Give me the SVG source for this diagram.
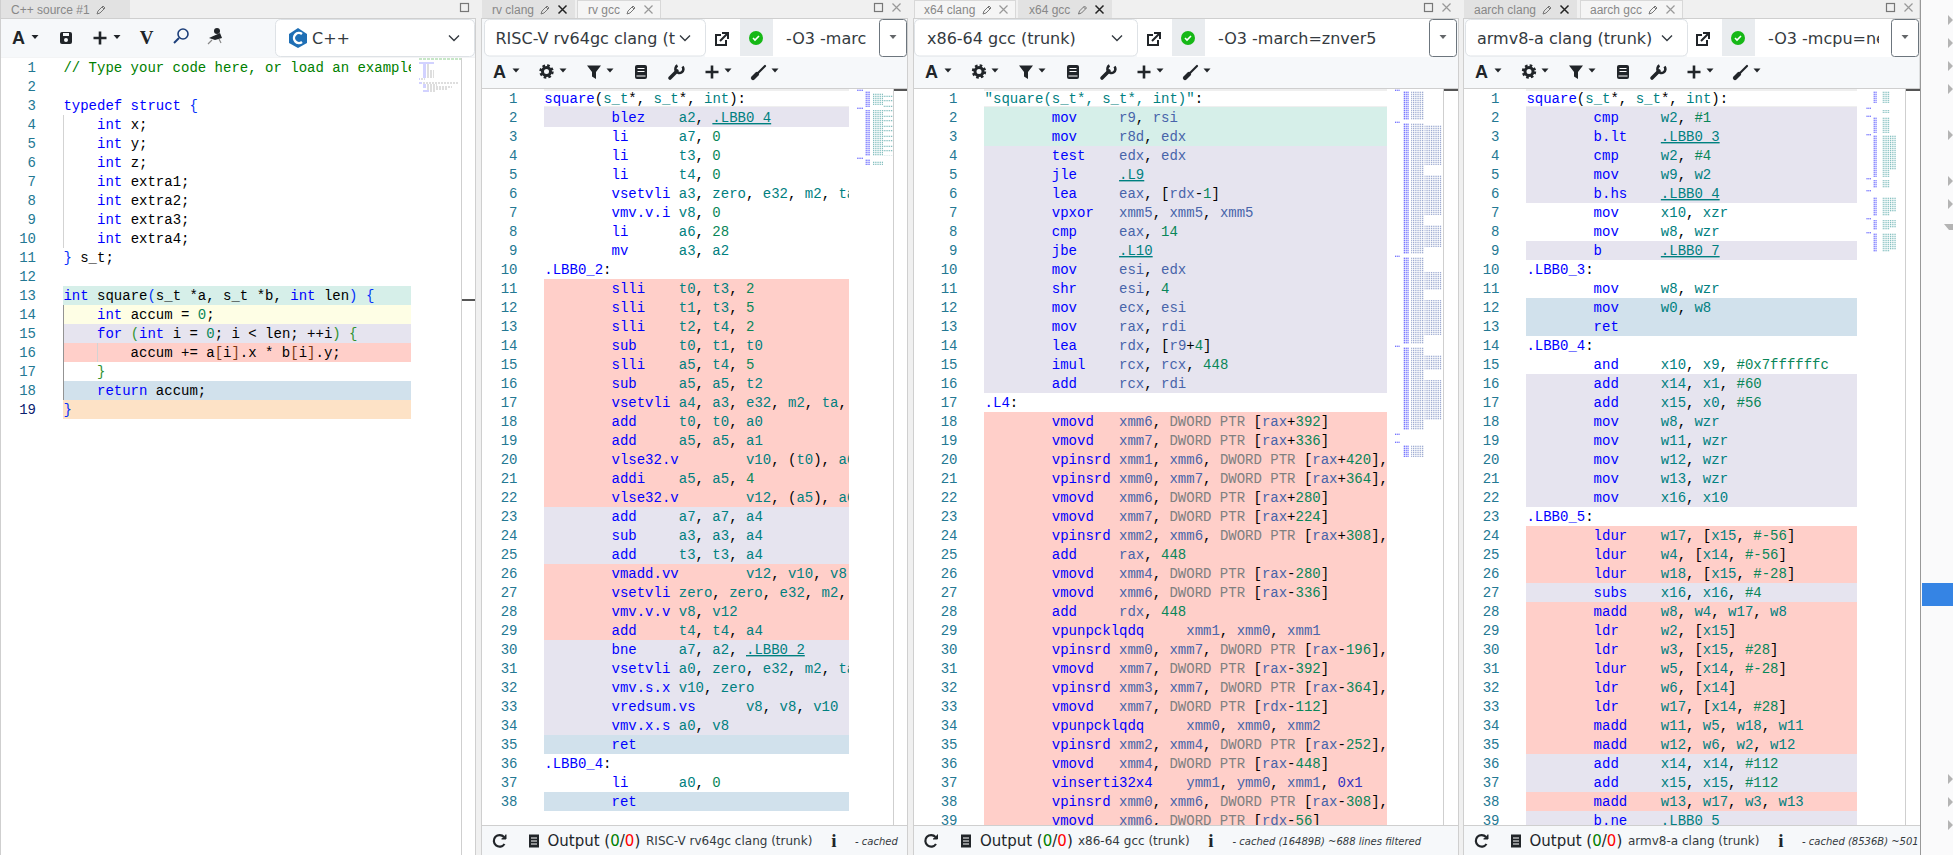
<svg xmlns="http://www.w3.org/2000/svg" width="1953" height="855" viewBox="0 0 1953 855">
<style>
.c{font:14px "Liberation Mono",monospace;white-space:pre;fill:#008080}
.ln{font:14px "Liberation Mono",monospace;fill:#237893;text-anchor:end}
.k{fill:#0000ff}.p{fill:#000}.n{fill:#098658}.d{fill:#808080}.g{fill:#008000}.b2{fill:#319331}.b3{fill:#7b3814}.b1{fill:#0431fa}.h{fill:#3030c0}
.l{fill:#008080;text-decoration:underline}
.x64{fill:#4864aa}.src{fill:#000}
.tab{font:12px "Liberation Sans",Arial,sans-serif;fill:#888}
.sel{font:16px "DejaVu Sans",sans-serif;fill:#343a40}
.out{font:15px "DejaVu Sans",sans-serif;fill:#212529}
.cn{font:12px "DejaVu Sans",sans-serif;fill:#343a40}
.ca{font:italic 10px "DejaVu Sans",sans-serif;fill:#343a40}
.ia{font:bold 18px "Liberation Sans",sans-serif;fill:#212529}
.ii{font:bold 19px "Liberation Serif",serif;fill:#212529;text-anchor:middle}
.rg{fill:#d6efe9}.ry{fill:#fefee5}.rl{fill:#e6e4ef}.rr{fill:#ffcfc9}.rb{fill:#d1e1ec}.ro{fill:#fde2c6}
.bar{fill:#f6f8fa}.tbon{fill:#e2e2e2}.tboff{fill:#f5f5f5;stroke:#d8d8d8;stroke-width:1}
.box{fill:#fff;stroke:#dee2e6;stroke-width:1}
.line{fill:none;stroke:#cfcfcf;stroke-width:1}
.mm{fill:none}
.mb{stroke:url(#pb)}.mt{stroke:url(#pt)}.ms{stroke:url(#ps)}
</style>
<defs>
<pattern id="pb" width="1.800" height="2" patternUnits="userSpaceOnUse"><rect width="1.100" height="1.400" fill="#6f6fff"/></pattern>
<pattern id="pt" width="1.800" height="2" patternUnits="userSpaceOnUse"><rect width="1" height="1.300" fill="#7fbdbd"/></pattern>
<pattern id="ps" width="1.800" height="2" patternUnits="userSpaceOnUse"><rect width="1" height="1.300" fill="#9aa8d0"/></pattern>
<path id="caret" d="M-3.5-2H3.5L0 2Z" fill="#212529"/>
<path id="plus" d="M-6.5 0H6.5M0-6.5V6.5" stroke="#212529" stroke-width="2.6" fill="none"/>
<g id="gear"><circle r="4" fill="none" stroke="#212529" stroke-width="3"/><circle r="6" fill="none" stroke="#212529" stroke-width="2.4" stroke-dasharray="2.6 2.1"/></g>
<path id="funnel" d="M-7-6.5H7L2 0V7L-2 4.5V0Z" fill="#212529"/>
<g id="book"><rect x="-6" y="-7" width="12" height="14" rx="2" fill="#212529"/><path d="M-3.5-3.5H3.5M-3.5-.5H3.5M-4.5 4H4.5" stroke="#fff" stroke-width="1.2"/></g>
<g id="wrench" fill="none" stroke="#212529"><path d="M-6 6L1-1" stroke-width="3.6" stroke-linecap="round"/><path d="M6.5-5.5A4 4 0 1 1 1.5-6.5" stroke-width="2.6"/></g>
<g id="brush" fill="none" stroke="#212529" stroke-linecap="round"><path d="M-6 6L-2 2" stroke-width="4.2"/><path d="M-1 1L6-6" stroke-width="2.2"/></g>
<g id="popout" fill="none" stroke="#212529" stroke-width="2"><path d="M-1-4H-6V6H4V1"/><path d="M-2 2L5-5M0-6H6V0"/></g>
<g id="ok"><circle r="7" fill="#16b816"/><path d="M-3 0L-1 2L3-2" fill="none" stroke="#fff" stroke-width="1.6"/></g>
<path id="pen" d="M-4 4L-3 1L2-4L4-2L-1 3ZM1-3L3-1" fill="none" stroke="#777" stroke-width="1"/>
<path id="xk" d="M-4-4L4 4M4-4L-4 4" stroke="#222" stroke-width="1.5"/>
<path id="xg" d="M-4-4L4 4M4-4L-4 4" stroke="#999" stroke-width="1.2"/>
<rect id="max" x="-4" y="-4" width="8" height="8" fill="none" stroke="#777" stroke-width="1.2"/>
<path id="chev" d="M-5-2.5L0 2.5L5-2.5" fill="none" stroke="#343a40" stroke-width="1.4"/>
<g id="refresh" fill="none" stroke="#212529" stroke-width="2.2"><path d="M5 3A5.8 5.8 0 1 1 4.5-4"/><path d="M6.5-6.5V-2H2" fill="#212529" stroke-width="1"/></g>
<g id="doc"><rect x="-5" y="-6.5" width="10" height="13" fill="#212529"/><path d="M-3-3H3M-3 0H3M-3 3H3" stroke="#fff" stroke-width="1"/></g>
<clipPath id="cs"><rect x="63" y="58" width="348" height="797"/></clipPath>
<clipPath id="cr"><rect x="544" y="89" width="305" height="736"/></clipPath>
<clipPath id="cx"><rect x="984" y="89" width="403" height="736"/></clipPath>
<clipPath id="ca"><rect x="1526" y="89" width="331" height="736"/></clipPath>
<clipPath id="cao"><rect x="1760" y="20" width="119" height="36"/></clipPath>
<clipPath id="caf"><rect x="1800" y="830" width="118" height="24"/></clipPath>
</defs>
<rect width="1953" height="855" fill="#f0f0f0"/>

<g id="pane-source">
<rect x="1" y="0" width="129" height="18" class="tbon"/>
<text x="11" y="14" class="tab">C++ source #1</text>
<use href="#pen" x="101" y="10"/><use href="#max" x="464.5" y="7.5"/>
<rect x="1" y="18.5" width="474" height="39" class="bar"/>
<path d="M1 18.5H475" class="line"/><path d="M.5 0V855M475.5 18V855" class="line"/>
<rect x="275.5" y="19.5" width="199" height="37" rx="5" class="box"/>
<text x="12" y="44" class="ia">A</text><use href="#caret" x="35" y="37"/>
<rect x="60" y="32" width="12" height="12" rx="2" fill="#212529"/><rect x="63" y="33" width="6" height="3" fill="#f6f8fa"/><circle cx="66" cy="40" r="2" fill="#f6f8fa"/>
<use href="#plus" x="100" y="38"/><use href="#caret" x="117" y="37"/>
<text x="146.500" y="44" class="ii">V</text>
<g fill="none" stroke="#1d3f7a"><circle cx="183" cy="34" r="5" stroke-width="1.6"/><path d="M179 38L174 43" stroke-width="2"/></g>
<g fill="#212529"><circle cx="217" cy="31" r="3"/><path d="M209 38L220 33L222 38L215 40Z"/><path d="M212 40L208 44M219 39L221 43" stroke="#888" stroke-width="1.2"/></g>
<path d="M289 34L298 28L307 34V43L298 48L289 43Z" fill="#1f6fb5"/><path d="M302 34A5 5 0 1 0 302 42" fill="none" stroke="#fff" stroke-width="2.4"/>
<text x="312" y="44" class="sel">C++</text><use href="#chev" x="454" y="38"/>
<rect x="1" y="58" width="474" height="797" fill="#fff"/>
<g clip-path="url(#cs)">
<rect x="63" y="286" width="348" height="19" class="rg"/><rect x="63" y="305" width="348" height="19" class="ry"/><rect x="63" y="324" width="348" height="19" class="rl"/><rect x="63" y="343" width="348" height="19" class="rr"/><rect x="63" y="381" width="348" height="19" class="rb"/><rect x="63" y="400" width="348" height="19" class="ro"/>
<path d="M63.500 115V248" stroke="#d3d3d3"/><path d="M63.500 305V400" stroke="#939393"/><path d="M97.500 343V362" stroke="#d3d3d3"/>
<g transform="translate(63.400,0)">
<text y="72" class="c g">// Type your code here, or load an example</text>
<text y="110" class="c src"><tspan class="k">typedef struct</tspan> <tspan class="b1">{</tspan></text>
<text y="129" class="c src">    <tspan class="k">int</tspan> x;</text>
<text y="148" class="c src">    <tspan class="k">int</tspan> y;</text>
<text y="167" class="c src">    <tspan class="k">int</tspan> z;</text>
<text y="186" class="c src">    <tspan class="k">int</tspan> extra1;</text>
<text y="205" class="c src">    <tspan class="k">int</tspan> extra2;</text>
<text y="224" class="c src">    <tspan class="k">int</tspan> extra3;</text>
<text y="243" class="c src">    <tspan class="k">int</tspan> extra4;</text>
<text y="262" class="c src"><tspan class="b1">}</tspan> s_t;</text>
<text y="300" class="c src"><tspan class="k">int</tspan> square<tspan class="b1">(</tspan>s_t *a, s_t *b, <tspan class="k">int</tspan> len<tspan class="b1">)</tspan> <tspan class="b1">{</tspan></text>
<text y="319" class="c src">    <tspan class="k">int</tspan> accum = <tspan class="n">0</tspan>;</text>
<text y="338" class="c src">    <tspan class="k">for</tspan> <tspan class="b2">(</tspan><tspan class="k">int</tspan> i = <tspan class="n">0</tspan>; i &lt; len; ++i<tspan class="b2">)</tspan> <tspan class="b2">{</tspan></text>
<text y="357" class="c src">        accum += a<tspan class="b3">[</tspan>i<tspan class="b3">]</tspan>.x * b<tspan class="b3">[</tspan>i<tspan class="b3">]</tspan>.y;</text>
<text y="376" class="c src">    <tspan class="b2">}</tspan></text>
<text y="395" class="c src">    <tspan class="k">return</tspan> accum;</text>
<text y="414" class="c src"><tspan class="b1">}</tspan></text>
</g></g>
<g transform="translate(36,0)">
<text class="ln" y="72">1</text><text class="ln" y="91">2</text><text class="ln" y="110">3</text><text class="ln" y="129">4</text><text class="ln" y="148">5</text><text class="ln" y="167">6</text><text class="ln" y="186">7</text><text class="ln" y="205">8</text><text class="ln" y="224">9</text><text class="ln" y="243">10</text><text class="ln" y="262">11</text><text class="ln" y="281">12</text><text class="ln" y="300">13</text><text class="ln" y="319">14</text><text class="ln" y="338">15</text><text class="ln" y="357">16</text><text class="ln" y="376">17</text><text class="ln" y="395">18</text><text class="ln" y="414" style="fill:#0b216f">19</text>
</g>
<path d="M461.500 58V855" class="line"/><rect x="462" y="299" width="13" height="2" fill="#555"/>
<path d="M419 59h42" stroke="#8fce8f" stroke-width="1.200" stroke-dasharray="3 1"/>
<path d="M419 63h15M423 65h3M423 67h3M423 69h3M423 71h3M423 73h3M423 75h3M423 77h3M419 79h1M419 83h3M423 85h3M423 87h3M423 91h6" stroke="#a5a5ff" stroke-width="1.200"/>
<path d="M427 65h2M427 67h2M427 69h2M427 71h7M427 73h7M427 75h7M427 77h7M421 79h4M423 83h35M427 85h10M427 87h25M427 89h20M430 91h5" stroke="#bdbdbd" stroke-width="1.200" stroke-dasharray="2 1"/>
</g>

<g id="pane-rv">
<rect x="482" y="0" width="93" height="18" class="tbon"/><rect x="577.500" y=".5" width="83" height="18" class="tboff"/>
<text x="492" y="14" class="tab">rv clang</text><text x="588" y="14" class="tab">rv gcc</text>
<use href="#pen" x="545" y="10"/><use href="#xk" x="562.500" y="9.500"/><use href="#pen" x="631" y="10"/><use href="#xg" x="648.500" y="9.500"/>
<use href="#max" x="878.500" y="7.500"/><use href="#xg" x="896.500" y="7.500"/>
<rect x="482" y="18.500" width="425" height="70" class="bar"/><rect x="705" y="19" width="202" height="38" fill="#fff"/>
<path d="M482 18.500H907M482 88.500H907" class="line"/><path d="M481.500 18V855M907.500 18V855" class="line"/>
<rect x="484.500" y="19.500" width="221" height="36.500" rx="5" class="box"/>
<text x="495.500" y="44" class="sel">RISC-V rv64gc clang (t</text><use href="#chev" x="685" y="38"/>
<use href="#popout" x="722" y="39"/><rect x="740" y="19" width="33" height="37" fill="#e9ecef"/><use href="#ok" x="756" y="38"/>
<text x="786" y="44" class="sel">-O3 -marc</text>
<rect x="879.500" y="19.500" width="27" height="37" rx="3" fill="#fff" stroke="#6c757d"/><use href="#caret" x="893" y="37" style="opacity:.7"/>
<text x="493" y="78" class="ia">A</text><use href="#caret" x="516" y="70.500"/><use href="#gear" x="546.500" y="71.500"/><use href="#caret" x="563" y="70.500"/><use href="#funnel" x="594" y="72"/><use href="#caret" x="610" y="70.500"/><use href="#book" x="641" y="72"/><use href="#wrench" x="676" y="72"/><use href="#plus" x="712" y="72"/><use href="#caret" x="728" y="70.500"/><use href="#brush" x="759" y="72"/><use href="#caret" x="775" y="70.500"/>
<rect x="482" y="89" width="425" height="736.500" fill="#fff"/>
<g clip-path="url(#cr)">
<path d="M544 89h305v2H544ZM544 106h305v2H544Z" fill="#efefef"/>
<rect x="544" y="107" width="305" height="20" class="rl"/><rect x="544" y="279" width="305" height="228" class="rr"/><rect x="544" y="507" width="305" height="57" class="rl"/><rect x="544" y="564" width="305" height="76" class="rr"/><rect x="544" y="640" width="305" height="95" class="rl"/><rect x="544" y="735" width="305" height="19" class="rb"/><rect x="544" y="792" width="305" height="19" class="rb"/>
<g transform="translate(544.300,0)">
<text y="103" class="c"><tspan class="k">square</tspan><tspan class="p">(</tspan>s_t<tspan class="p">*, </tspan>s_t<tspan class="p">*, </tspan>int<tspan class="p">):</tspan></text>
<text y="122" class="c">        <tspan class="k">blez</tspan>    a2<tspan class="p">, </tspan><tspan class="l">.LBB0_4</tspan></text>
<text y="141" class="c">        <tspan class="k">li</tspan>      a7<tspan class="p">, </tspan><tspan class="n">0</tspan></text>
<text y="160" class="c">        <tspan class="k">li</tspan>      t3<tspan class="p">, </tspan><tspan class="n">0</tspan></text>
<text y="179" class="c">        <tspan class="k">li</tspan>      t4<tspan class="p">, </tspan><tspan class="n">0</tspan></text>
<text y="198" class="c">        <tspan class="k">vsetvli</tspan> a3<tspan class="p">, </tspan>zero<tspan class="p">, </tspan>e32<tspan class="p">, </tspan>m2<tspan class="p">, </tspan>ta</text>
<text y="217" class="c">        <tspan class="k">vmv.v.i</tspan> v8<tspan class="p">, </tspan><tspan class="n">0</tspan></text>
<text y="236" class="c">        <tspan class="k">li</tspan>      a6<tspan class="p">, </tspan><tspan class="n">28</tspan></text>
<text y="255" class="c">        <tspan class="k">mv</tspan>      a3<tspan class="p">, </tspan>a2</text>
<text y="274" class="c"><tspan class="k">.LBB0_2</tspan><tspan class="p">:</tspan></text>
<text y="293" class="c">        <tspan class="k">slli</tspan>    t0<tspan class="p">, </tspan>t3<tspan class="p">, </tspan><tspan class="n">2</tspan></text>
<text y="312" class="c">        <tspan class="k">slli</tspan>    t1<tspan class="p">, </tspan>t3<tspan class="p">, </tspan><tspan class="n">5</tspan></text>
<text y="331" class="c">        <tspan class="k">slli</tspan>    t2<tspan class="p">, </tspan>t4<tspan class="p">, </tspan><tspan class="n">2</tspan></text>
<text y="350" class="c">        <tspan class="k">sub</tspan>     t0<tspan class="p">, </tspan>t1<tspan class="p">, </tspan>t0</text>
<text y="369" class="c">        <tspan class="k">slli</tspan>    a5<tspan class="p">, </tspan>t4<tspan class="p">, </tspan><tspan class="n">5</tspan></text>
<text y="388" class="c">        <tspan class="k">sub</tspan>     a5<tspan class="p">, </tspan>a5<tspan class="p">, </tspan>t2</text>
<text y="407" class="c">        <tspan class="k">vsetvli</tspan> a4<tspan class="p">, </tspan>a3<tspan class="p">, </tspan>e32<tspan class="p">, </tspan>m2<tspan class="p">, </tspan>ta<tspan class="p">,</tspan></text>
<text y="426" class="c">        <tspan class="k">add</tspan>     t0<tspan class="p">, </tspan>t0<tspan class="p">, </tspan>a0</text>
<text y="445" class="c">        <tspan class="k">add</tspan>     a5<tspan class="p">, </tspan>a5<tspan class="p">, </tspan>a1</text>
<text y="464" class="c">        <tspan class="k">vlse32.v</tspan>        v10<tspan class="p">, (</tspan>t0<tspan class="p">), </tspan>a6</text>
<text y="483" class="c">        <tspan class="k">addi</tspan>    a5<tspan class="p">, </tspan>a5<tspan class="p">, </tspan><tspan class="n">4</tspan></text>
<text y="502" class="c">        <tspan class="k">vlse32.v</tspan>        v12<tspan class="p">, (</tspan>a5<tspan class="p">), </tspan>a6</text>
<text y="521" class="c">        <tspan class="k">add</tspan>     a7<tspan class="p">, </tspan>a7<tspan class="p">, </tspan>a4</text>
<text y="540" class="c">        <tspan class="k">sub</tspan>     a3<tspan class="p">, </tspan>a3<tspan class="p">, </tspan>a4</text>
<text y="559" class="c">        <tspan class="k">add</tspan>     t3<tspan class="p">, </tspan>t3<tspan class="p">, </tspan>a4</text>
<text y="578" class="c">        <tspan class="k">vmadd.vv</tspan>        v12<tspan class="p">, </tspan>v10<tspan class="p">, </tspan>v8</text>
<text y="597" class="c">        <tspan class="k">vsetvli</tspan> zero<tspan class="p">, </tspan>zero<tspan class="p">, </tspan>e32<tspan class="p">, </tspan>m2<tspan class="p">,</tspan></text>
<text y="616" class="c">        <tspan class="k">vmv.v.v</tspan> v8<tspan class="p">, </tspan>v12</text>
<text y="635" class="c">        <tspan class="k">add</tspan>     t4<tspan class="p">, </tspan>t4<tspan class="p">, </tspan>a4</text>
<text y="654" class="c">        <tspan class="k">bne</tspan>     a7<tspan class="p">, </tspan>a2<tspan class="p">, </tspan><tspan class="l">.LBB0_2</tspan></text>
<text y="673" class="c">        <tspan class="k">vsetvli</tspan> a0<tspan class="p">, </tspan>zero<tspan class="p">, </tspan>e32<tspan class="p">, </tspan>m2<tspan class="p">, </tspan>ta</text>
<text y="692" class="c">        <tspan class="k">vmv.s.x</tspan> v10<tspan class="p">, </tspan>zero</text>
<text y="711" class="c">        <tspan class="k">vredsum.vs</tspan>      v8<tspan class="p">, </tspan>v8<tspan class="p">, </tspan>v10</text>
<text y="730" class="c">        <tspan class="k">vmv.x.s</tspan> a0<tspan class="p">, </tspan>v8</text>
<text y="749" class="c">        <tspan class="k">ret</tspan></text>
<text y="768" class="c"><tspan class="k">.LBB0_4</tspan><tspan class="p">:</tspan></text>
<text y="787" class="c">        <tspan class="k">li</tspan>      a0<tspan class="p">, </tspan><tspan class="n">0</tspan></text>
<text y="806" class="c">        <tspan class="k">ret</tspan></text>
</g></g>
<g transform="translate(517.500,0)">
<text class="ln" y="103">1</text><text class="ln" y="122">2</text><text class="ln" y="141">3</text><text class="ln" y="160">4</text><text class="ln" y="179">5</text><text class="ln" y="198">6</text><text class="ln" y="217">7</text><text class="ln" y="236">8</text><text class="ln" y="255">9</text><text class="ln" y="274">10</text><text class="ln" y="293">11</text><text class="ln" y="312">12</text><text class="ln" y="331">13</text><text class="ln" y="350">14</text><text class="ln" y="369">15</text><text class="ln" y="388">16</text><text class="ln" y="407">17</text><text class="ln" y="426">18</text><text class="ln" y="445">19</text><text class="ln" y="464">20</text><text class="ln" y="483">21</text><text class="ln" y="502">22</text><text class="ln" y="521">23</text><text class="ln" y="540">24</text><text class="ln" y="559">25</text><text class="ln" y="578">26</text><text class="ln" y="597">27</text><text class="ln" y="616">28</text><text class="ln" y="635">29</text><text class="ln" y="654">30</text><text class="ln" y="673">31</text><text class="ln" y="692">32</text><text class="ln" y="711">33</text><text class="ln" y="730">34</text><text class="ln" y="749">35</text><text class="ln" y="768">36</text><text class="ln" y="787">37</text><text class="ln" y="806">38</text>
</g>
<path d="M893.500 89V825" class="line"/><rect x="894" y="89" width="13" height="2" fill="#555"/>
<path class="mm mb" stroke-width="5" d="M867.500 91V107M867.500 110V156M867.500 159V165"/><path class="mm mb" stroke-width="6" d="M860 89V91M860 107V109M860 157V159"/>
<path class="mm mt" stroke-width="10" d="M878 93V105M878 110V156M878 161V165"/><path class="mm mt" stroke-width="10" stroke-dasharray="2 3" d="M888 95V156"/>
<rect x="482" y="825.500" width="425" height="29.500" class="bar"/><path d="M482 825.500H907" class="line"/>
<use href="#refresh" x="499.500" y="841"/><use href="#doc" x="534" y="841"/>
<text x="547.500" y="846" class="out">Output (<tspan fill="#008000">0</tspan>/<tspan fill="#f00">0</tspan>)</text>
<text x="646" y="845" class="cn">RISC-V rv64gc clang (trunk)</text><text x="834" y="847" class="ii">i</text>
<text x="855" y="845" class="ca">- cached</text>
</g>

<g id="pane-x64">
<rect x="914.500" y=".5" width="101" height="18" class="tboff"/><rect x="1018" y="0" width="94" height="18" class="tbon"/>
<text x="924" y="14" class="tab">x64 clang</text><text x="1029" y="14" class="tab">x64 gcc</text>
<use href="#pen" x="987" y="10"/><use href="#xg" x="1003.500" y="9.500"/><use href="#pen" x="1082.500" y="10"/><use href="#xk" x="1099.500" y="9.500"/>
<use href="#max" x="1428.500" y="7.500"/><use href="#xg" x="1446.500" y="7.500"/>
<rect x="914" y="18.500" width="544" height="70" class="bar"/><rect x="1137" y="19" width="320" height="38" fill="#fff"/>
<path d="M914 18.500H1458M914 88.500H1458" class="line"/><path d="M913.500 18V855M1458.500 18V855" class="line"/>
<rect x="914.500" y="19.500" width="223" height="36.500" rx="5" class="box"/>
<text x="927" y="44" class="sel">x86-64 gcc (trunk)</text><use href="#chev" x="1117" y="38"/>
<use href="#popout" x="1154" y="39"/><rect x="1172" y="19" width="33" height="37" fill="#e9ecef"/><use href="#ok" x="1188" y="38"/>
<text x="1218" y="44" class="sel">-O3 -march=znver5</text>
<rect x="1429.500" y="19.500" width="27" height="37" rx="3" fill="#fff" stroke="#6c757d"/><use href="#caret" x="1443" y="37" style="opacity:.7"/>
<text x="925" y="78" class="ia">A</text><use href="#caret" x="948" y="70.500"/><use href="#gear" x="979" y="71.500"/><use href="#caret" x="995" y="70.500"/><use href="#funnel" x="1026" y="72"/><use href="#caret" x="1042" y="70.500"/><use href="#book" x="1073" y="72"/><use href="#wrench" x="1108" y="72"/><use href="#plus" x="1144" y="72"/><use href="#caret" x="1160" y="70.500"/><use href="#brush" x="1191" y="72"/><use href="#caret" x="1207" y="70.500"/>
<rect x="914" y="89" width="544" height="736.500" fill="#fff"/>
<g clip-path="url(#cx)">
<path d="M984 89h403v2H984ZM984 106h403v2H984Z" fill="#efefef"/>
<rect x="984" y="107" width="403" height="39" class="rg"/><rect x="984" y="146" width="403" height="247" class="rl"/><rect x="984" y="412" width="403" height="414" class="rr"/>
<g transform="translate(984.600,0)">
<text y="103" class="c">"square(s_t*, s_t*, int)"<tspan class="p">:</tspan></text>
<text y="122" class="c x64">        <tspan class="k">mov</tspan>     r9<tspan class="p">, </tspan>rsi</text>
<text y="141" class="c x64">        <tspan class="k">mov</tspan>     r8d<tspan class="p">, </tspan>edx</text>
<text y="160" class="c x64">        <tspan class="k">test</tspan>    edx<tspan class="p">, </tspan>edx</text>
<text y="179" class="c x64">        <tspan class="k">jle</tspan>     <tspan class="l">.L9</tspan></text>
<text y="198" class="c x64">        <tspan class="k">lea</tspan>     eax<tspan class="p">, [</tspan>rdx<tspan class="p">-</tspan><tspan class="n">1</tspan><tspan class="p">]</tspan></text>
<text y="217" class="c x64">        <tspan class="k">vpxor</tspan>   xmm5<tspan class="p">, </tspan>xmm5<tspan class="p">, </tspan>xmm5</text>
<text y="236" class="c x64">        <tspan class="k">cmp</tspan>     eax<tspan class="p">, </tspan><tspan class="n">14</tspan></text>
<text y="255" class="c x64">        <tspan class="k">jbe</tspan>     <tspan class="l">.L10</tspan></text>
<text y="274" class="c x64">        <tspan class="k">mov</tspan>     esi<tspan class="p">, </tspan>edx</text>
<text y="293" class="c x64">        <tspan class="k">shr</tspan>     esi<tspan class="p">, </tspan><tspan class="n">4</tspan></text>
<text y="312" class="c x64">        <tspan class="k">mov</tspan>     ecx<tspan class="p">, </tspan>esi</text>
<text y="331" class="c x64">        <tspan class="k">mov</tspan>     rax<tspan class="p">, </tspan>rdi</text>
<text y="350" class="c x64">        <tspan class="k">lea</tspan>     rdx<tspan class="p">, [</tspan>r9<tspan class="p">+</tspan><tspan class="n">4</tspan><tspan class="p">]</tspan></text>
<text y="369" class="c x64">        <tspan class="k">imul</tspan>    rcx<tspan class="p">, </tspan>rcx<tspan class="p">, </tspan><tspan class="n">448</tspan></text>
<text y="388" class="c x64">        <tspan class="k">add</tspan>     rcx<tspan class="p">, </tspan>rdi</text>
<text y="407" class="c"><tspan class="k">.L4</tspan><tspan class="p">:</tspan></text>
<text y="426" class="c x64">        <tspan class="k">vmovd</tspan>   xmm6<tspan class="p">, </tspan><tspan class="d">DWORD PTR</tspan><tspan class="p"> [</tspan>rax<tspan class="p">+</tspan><tspan class="n">392</tspan><tspan class="p">]</tspan></text>
<text y="445" class="c x64">        <tspan class="k">vmovd</tspan>   xmm7<tspan class="p">, </tspan><tspan class="d">DWORD PTR</tspan><tspan class="p"> [</tspan>rax<tspan class="p">+</tspan><tspan class="n">336</tspan><tspan class="p">]</tspan></text>
<text y="464" class="c x64">        <tspan class="k">vpinsrd</tspan> xmm1<tspan class="p">, </tspan>xmm6<tspan class="p">, </tspan><tspan class="d">DWORD PTR</tspan><tspan class="p"> [</tspan>rax<tspan class="p">+</tspan><tspan class="n">420</tspan><tspan class="p">],</tspan></text>
<text y="483" class="c x64">        <tspan class="k">vpinsrd</tspan> xmm0<tspan class="p">, </tspan>xmm7<tspan class="p">, </tspan><tspan class="d">DWORD PTR</tspan><tspan class="p"> [</tspan>rax<tspan class="p">+</tspan><tspan class="n">364</tspan><tspan class="p">],</tspan></text>
<text y="502" class="c x64">        <tspan class="k">vmovd</tspan>   xmm6<tspan class="p">, </tspan><tspan class="d">DWORD PTR</tspan><tspan class="p"> [</tspan>rax<tspan class="p">+</tspan><tspan class="n">280</tspan><tspan class="p">]</tspan></text>
<text y="521" class="c x64">        <tspan class="k">vmovd</tspan>   xmm7<tspan class="p">, </tspan><tspan class="d">DWORD PTR</tspan><tspan class="p"> [</tspan>rax<tspan class="p">+</tspan><tspan class="n">224</tspan><tspan class="p">]</tspan></text>
<text y="540" class="c x64">        <tspan class="k">vpinsrd</tspan> xmm2<tspan class="p">, </tspan>xmm6<tspan class="p">, </tspan><tspan class="d">DWORD PTR</tspan><tspan class="p"> [</tspan>rax<tspan class="p">+</tspan><tspan class="n">308</tspan><tspan class="p">],</tspan></text>
<text y="559" class="c x64">        <tspan class="k">add</tspan>     rax<tspan class="p">, </tspan><tspan class="n">448</tspan></text>
<text y="578" class="c x64">        <tspan class="k">vmovd</tspan>   xmm4<tspan class="p">, </tspan><tspan class="d">DWORD PTR</tspan><tspan class="p"> [</tspan>rax<tspan class="p">-</tspan><tspan class="n">280</tspan><tspan class="p">]</tspan></text>
<text y="597" class="c x64">        <tspan class="k">vmovd</tspan>   xmm6<tspan class="p">, </tspan><tspan class="d">DWORD PTR</tspan><tspan class="p"> [</tspan>rax<tspan class="p">-</tspan><tspan class="n">336</tspan><tspan class="p">]</tspan></text>
<text y="616" class="c x64">        <tspan class="k">add</tspan>     rdx<tspan class="p">, </tspan><tspan class="n">448</tspan></text>
<text y="635" class="c x64">        <tspan class="k">vpunpcklqdq</tspan>     xmm1<tspan class="p">, </tspan>xmm0<tspan class="p">, </tspan>xmm1</text>
<text y="654" class="c x64">        <tspan class="k">vpinsrd</tspan> xmm0<tspan class="p">, </tspan>xmm7<tspan class="p">, </tspan><tspan class="d">DWORD PTR</tspan><tspan class="p"> [</tspan>rax<tspan class="p">-</tspan><tspan class="n">196</tspan><tspan class="p">],</tspan></text>
<text y="673" class="c x64">        <tspan class="k">vmovd</tspan>   xmm7<tspan class="p">, </tspan><tspan class="d">DWORD PTR</tspan><tspan class="p"> [</tspan>rax<tspan class="p">-</tspan><tspan class="n">392</tspan><tspan class="p">]</tspan></text>
<text y="692" class="c x64">        <tspan class="k">vpinsrd</tspan> xmm3<tspan class="p">, </tspan>xmm7<tspan class="p">, </tspan><tspan class="d">DWORD PTR</tspan><tspan class="p"> [</tspan>rax<tspan class="p">-</tspan><tspan class="n">364</tspan><tspan class="p">],</tspan></text>
<text y="711" class="c x64">        <tspan class="k">vmovd</tspan>   xmm7<tspan class="p">, </tspan><tspan class="d">DWORD PTR</tspan><tspan class="p"> [</tspan>rdx<tspan class="p">-</tspan><tspan class="n">112</tspan><tspan class="p">]</tspan></text>
<text y="730" class="c x64">        <tspan class="k">vpunpcklqdq</tspan>     xmm0<tspan class="p">, </tspan>xmm0<tspan class="p">, </tspan>xmm2</text>
<text y="749" class="c x64">        <tspan class="k">vpinsrd</tspan> xmm2<tspan class="p">, </tspan>xmm4<tspan class="p">, </tspan><tspan class="d">DWORD PTR</tspan><tspan class="p"> [</tspan>rax<tspan class="p">-</tspan><tspan class="n">252</tspan><tspan class="p">],</tspan></text>
<text y="768" class="c x64">        <tspan class="k">vmovd</tspan>   xmm4<tspan class="p">, </tspan><tspan class="d">DWORD PTR</tspan><tspan class="p"> [</tspan>rax<tspan class="p">-</tspan><tspan class="n">448</tspan><tspan class="p">]</tspan></text>
<text y="787" class="c x64">        <tspan class="k">vinserti32x4</tspan>    ymm1<tspan class="p">, </tspan>ymm0<tspan class="p">, </tspan>xmm1<tspan class="p">, </tspan><tspan class="h">0x1</tspan></text>
<text y="806" class="c x64">        <tspan class="k">vpinsrd</tspan> xmm0<tspan class="p">, </tspan>xmm6<tspan class="p">, </tspan><tspan class="d">DWORD PTR</tspan><tspan class="p"> [</tspan>rax<tspan class="p">-</tspan><tspan class="n">308</tspan><tspan class="p">],</tspan></text>
<text y="825" class="c x64">        <tspan class="k">vmovd</tspan>   xmm6<tspan class="p">, </tspan><tspan class="d">DWORD PTR</tspan><tspan class="p"> [</tspan>rdx<tspan class="p">-</tspan><tspan class="n">56</tspan><tspan class="p">]</tspan></text>
</g></g>
<g transform="translate(957.500,0)">
<text class="ln" y="103">1</text><text class="ln" y="122">2</text><text class="ln" y="141">3</text><text class="ln" y="160">4</text><text class="ln" y="179">5</text><text class="ln" y="198">6</text><text class="ln" y="217">7</text><text class="ln" y="236">8</text><text class="ln" y="255">9</text><text class="ln" y="274">10</text><text class="ln" y="293">11</text><text class="ln" y="312">12</text><text class="ln" y="331">13</text><text class="ln" y="350">14</text><text class="ln" y="369">15</text><text class="ln" y="388">16</text><text class="ln" y="407">17</text><text class="ln" y="426">18</text><text class="ln" y="445">19</text><text class="ln" y="464">20</text><text class="ln" y="483">21</text><text class="ln" y="502">22</text><text class="ln" y="521">23</text><text class="ln" y="540">24</text><text class="ln" y="559">25</text><text class="ln" y="578">26</text><text class="ln" y="597">27</text><text class="ln" y="616">28</text><text class="ln" y="635">29</text><text class="ln" y="654">30</text><text class="ln" y="673">31</text><text class="ln" y="692">32</text><text class="ln" y="711">33</text><text class="ln" y="730">34</text><text class="ln" y="749">35</text><text class="ln" y="768">36</text><text class="ln" y="787">37</text><text class="ln" y="806">38</text><text class="ln" y="825">39</text>
</g>
<path d="M1443.500 89V825" class="line"/><rect x="1444" y="89" width="14" height="2" fill="#555"/>
<path class="mm mb" stroke-width="6" d="M1406 91V120M1406 123V254M1406 257V344M1406 347V430M1406 445V457"/>
<path class="mm mb" stroke-width="5" d="M1397.500 89V91M1397.500 121V123M1397.500 255V257M1397.500 345V347M1397.500 433V435M1397.500 441V443"/>
<path class="mm ms" stroke-width="13" d="M1417.500 91V120M1417.500 123V254M1417.500 257V344M1417.500 347V430M1417.500 445V457"/>
<path class="mm ms" stroke-width="17" d="M1433 125V165M1433 175V215M1433 225V247M1433 272V290M1433 300V335M1433 355V370M1433 380V420"/>
<rect x="914" y="825.500" width="544" height="29.500" class="bar"/><path d="M914 825.500H1458" class="line"/>
<use href="#refresh" x="931" y="841"/><use href="#doc" x="966" y="841"/>
<text x="980" y="846" class="out">Output (<tspan fill="#008000">0</tspan>/<tspan fill="#f00">0</tspan>)</text>
<text x="1078" y="845" class="cn">x86-64 gcc (trunk)</text><text x="1211" y="847" class="ii">i</text>
<text x="1232.500" y="845" class="ca">- cached (16489B) ~688 lines filtered</text>
</g>

<g id="pane-arm">
<rect x="1464" y="0" width="113" height="18" class="tbon"/><rect x="1580.500" y=".5" width="102" height="18" class="tboff"/>
<text x="1474" y="14" class="tab">aarch clang</text><text x="1590" y="14" class="tab">aarch gcc</text>
<use href="#pen" x="1547" y="10"/><use href="#xk" x="1564.500" y="9.500"/><use href="#pen" x="1653" y="10"/><use href="#xg" x="1670.500" y="9.500"/>
<use href="#max" x="1890.500" y="7.500"/><use href="#xg" x="1908.500" y="7.500"/>
<rect x="1464" y="18.500" width="456" height="70" class="bar"/><rect x="1687" y="19" width="233" height="38" fill="#fff"/>
<path d="M1464 18.500H1920M1464 88.500H1920" class="line"/><path d="M1463.500 18V855" class="line"/><path d="M1920.500 0V855" stroke="#999" stroke-width="1.500"/>
<rect x="1465.500" y="19.500" width="222" height="36.500" rx="5" class="box"/>
<text x="1477" y="44" class="sel">armv8-a clang (trunk)</text><use href="#chev" x="1667" y="38"/>
<use href="#popout" x="1703" y="39"/><rect x="1722" y="19" width="33" height="37" fill="#e9ecef"/><use href="#ok" x="1738" y="38"/>
<g clip-path="url(#cao)"><text x="1768" y="44" class="sel">-O3 -mcpu=ne</text></g>
<rect x="1891.500" y="19.500" width="27" height="37" rx="3" fill="#fff" stroke="#6c757d"/><use href="#caret" x="1905" y="37" style="opacity:.7"/>
<text x="1475" y="78" class="ia">A</text><use href="#caret" x="1498" y="70.500"/><use href="#gear" x="1529" y="71.500"/><use href="#caret" x="1545" y="70.500"/><use href="#funnel" x="1576" y="72"/><use href="#caret" x="1592" y="70.500"/><use href="#book" x="1623" y="72"/><use href="#wrench" x="1658" y="72"/><use href="#plus" x="1694" y="72"/><use href="#caret" x="1710" y="70.500"/><use href="#brush" x="1741" y="72"/><use href="#caret" x="1757" y="70.500"/>
<rect x="1464" y="89" width="456" height="736.500" fill="#fff"/>
<g clip-path="url(#ca)">
<path d="M1526 89h331v2H1526ZM1526 106h331v2H1526Z" fill="#efefef"/>
<rect x="1526" y="107" width="331" height="96" class="rl"/><rect x="1526" y="241" width="331" height="19" class="rl"/><rect x="1526" y="298" width="331" height="38" class="rb"/><rect x="1526" y="374" width="331" height="133" class="rl"/><rect x="1526" y="526" width="331" height="57" class="rr"/><rect x="1526" y="583" width="331" height="19" class="rl"/><rect x="1526" y="602" width="331" height="152" class="rr"/><rect x="1526" y="754" width="331" height="38" class="rl"/><rect x="1526" y="792" width="331" height="19" class="rr"/><rect x="1526" y="811" width="331" height="15" class="rl"/>
<g transform="translate(1526.400,0)">
<text y="103" class="c"><tspan class="k">square</tspan><tspan class="p">(</tspan>s_t<tspan class="p">*, </tspan>s_t<tspan class="p">*, </tspan>int<tspan class="p">):</tspan></text>
<text y="122" class="c">        <tspan class="k">cmp</tspan>     w2<tspan class="p">, </tspan><tspan class="n">#1</tspan></text>
<text y="141" class="c">        <tspan class="k">b.lt</tspan>    <tspan class="l">.LBB0_3</tspan></text>
<text y="160" class="c">        <tspan class="k">cmp</tspan>     w2<tspan class="p">, </tspan><tspan class="n">#4</tspan></text>
<text y="179" class="c">        <tspan class="k">mov</tspan>     w9<tspan class="p">, </tspan>w2</text>
<text y="198" class="c">        <tspan class="k">b.hs</tspan>    <tspan class="l">.LBB0_4</tspan></text>
<text y="217" class="c">        <tspan class="k">mov</tspan>     x10<tspan class="p">, </tspan>xzr</text>
<text y="236" class="c">        <tspan class="k">mov</tspan>     w8<tspan class="p">, </tspan>wzr</text>
<text y="255" class="c">        <tspan class="k">b</tspan>       <tspan class="l">.LBB0_7</tspan></text>
<text y="274" class="c"><tspan class="k">.LBB0_3</tspan><tspan class="p">:</tspan></text>
<text y="293" class="c">        <tspan class="k">mov</tspan>     w8<tspan class="p">, </tspan>wzr</text>
<text y="312" class="c">        <tspan class="k">mov</tspan>     w0<tspan class="p">, </tspan>w8</text>
<text y="331" class="c">        <tspan class="k">ret</tspan></text>
<text y="350" class="c"><tspan class="k">.LBB0_4</tspan><tspan class="p">:</tspan></text>
<text y="369" class="c">        <tspan class="k">and</tspan>     x10<tspan class="p">, </tspan>x9<tspan class="p">, </tspan><tspan class="n">#0x7ffffffc</tspan></text>
<text y="388" class="c">        <tspan class="k">add</tspan>     x14<tspan class="p">, </tspan>x1<tspan class="p">, </tspan><tspan class="n">#60</tspan></text>
<text y="407" class="c">        <tspan class="k">add</tspan>     x15<tspan class="p">, </tspan>x0<tspan class="p">, </tspan><tspan class="n">#56</tspan></text>
<text y="426" class="c">        <tspan class="k">mov</tspan>     w8<tspan class="p">, </tspan>wzr</text>
<text y="445" class="c">        <tspan class="k">mov</tspan>     w11<tspan class="p">, </tspan>wzr</text>
<text y="464" class="c">        <tspan class="k">mov</tspan>     w12<tspan class="p">, </tspan>wzr</text>
<text y="483" class="c">        <tspan class="k">mov</tspan>     w13<tspan class="p">, </tspan>wzr</text>
<text y="502" class="c">        <tspan class="k">mov</tspan>     x16<tspan class="p">, </tspan>x10</text>
<text y="521" class="c"><tspan class="k">.LBB0_5</tspan><tspan class="p">:</tspan></text>
<text y="540" class="c">        <tspan class="k">ldur</tspan>    w17<tspan class="p">, [</tspan>x15<tspan class="p">, </tspan><tspan class="n">#-56</tspan><tspan class="p">]</tspan></text>
<text y="559" class="c">        <tspan class="k">ldur</tspan>    w4<tspan class="p">, [</tspan>x14<tspan class="p">, </tspan><tspan class="n">#-56</tspan><tspan class="p">]</tspan></text>
<text y="578" class="c">        <tspan class="k">ldur</tspan>    w18<tspan class="p">, [</tspan>x15<tspan class="p">, </tspan><tspan class="n">#-28</tspan><tspan class="p">]</tspan></text>
<text y="597" class="c">        <tspan class="k">subs</tspan>    x16<tspan class="p">, </tspan>x16<tspan class="p">, </tspan><tspan class="n">#4</tspan></text>
<text y="616" class="c">        <tspan class="k">madd</tspan>    w8<tspan class="p">, </tspan>w4<tspan class="p">, </tspan>w17<tspan class="p">, </tspan>w8</text>
<text y="635" class="c">        <tspan class="k">ldr</tspan>     w2<tspan class="p">, [</tspan>x15<tspan class="p">]</tspan></text>
<text y="654" class="c">        <tspan class="k">ldr</tspan>     w3<tspan class="p">, [</tspan>x15<tspan class="p">, </tspan><tspan class="n">#28</tspan><tspan class="p">]</tspan></text>
<text y="673" class="c">        <tspan class="k">ldur</tspan>    w5<tspan class="p">, [</tspan>x14<tspan class="p">, </tspan><tspan class="n">#-28</tspan><tspan class="p">]</tspan></text>
<text y="692" class="c">        <tspan class="k">ldr</tspan>     w6<tspan class="p">, [</tspan>x14<tspan class="p">]</tspan></text>
<text y="711" class="c">        <tspan class="k">ldr</tspan>     w17<tspan class="p">, [</tspan>x14<tspan class="p">, </tspan><tspan class="n">#28</tspan><tspan class="p">]</tspan></text>
<text y="730" class="c">        <tspan class="k">madd</tspan>    w11<tspan class="p">, </tspan>w5<tspan class="p">, </tspan>w18<tspan class="p">, </tspan>w11</text>
<text y="749" class="c">        <tspan class="k">madd</tspan>    w12<tspan class="p">, </tspan>w6<tspan class="p">, </tspan>w2<tspan class="p">, </tspan>w12</text>
<text y="768" class="c">        <tspan class="k">add</tspan>     x14<tspan class="p">, </tspan>x14<tspan class="p">, </tspan><tspan class="n">#112</tspan></text>
<text y="787" class="c">        <tspan class="k">add</tspan>     x15<tspan class="p">, </tspan>x15<tspan class="p">, </tspan><tspan class="n">#112</tspan></text>
<text y="806" class="c">        <tspan class="k">madd</tspan>    w13<tspan class="p">, </tspan>w17<tspan class="p">, </tspan>w3<tspan class="p">, </tspan>w13</text>
<text y="825" class="c">        <tspan class="k">b.ne</tspan>    <tspan class="l">.LBB0_5</tspan></text>
</g></g>
<g transform="translate(1499.500,0)">
<text class="ln" y="103">1</text><text class="ln" y="122">2</text><text class="ln" y="141">3</text><text class="ln" y="160">4</text><text class="ln" y="179">5</text><text class="ln" y="198">6</text><text class="ln" y="217">7</text><text class="ln" y="236">8</text><text class="ln" y="255">9</text><text class="ln" y="274">10</text><text class="ln" y="293">11</text><text class="ln" y="312">12</text><text class="ln" y="331">13</text><text class="ln" y="350">14</text><text class="ln" y="369">15</text><text class="ln" y="388">16</text><text class="ln" y="407">17</text><text class="ln" y="426">18</text><text class="ln" y="445">19</text><text class="ln" y="464">20</text><text class="ln" y="483">21</text><text class="ln" y="502">22</text><text class="ln" y="521">23</text><text class="ln" y="540">24</text><text class="ln" y="559">25</text><text class="ln" y="578">26</text><text class="ln" y="597">27</text><text class="ln" y="616">28</text><text class="ln" y="635">29</text><text class="ln" y="654">30</text><text class="ln" y="673">31</text><text class="ln" y="692">32</text><text class="ln" y="711">33</text><text class="ln" y="730">34</text><text class="ln" y="749">35</text><text class="ln" y="768">36</text><text class="ln" y="787">37</text><text class="ln" y="806">38</text><text class="ln" y="825">39</text>
</g>
<path d="M1905.500 89V825" class="line"/><rect x="1906" y="89" width="14" height="2" fill="#555"/>
<path class="mm mb" stroke-width="4" d="M1875 91V103M1875 117V133M1875 135V177M1875 180V188M1875 197V216M1875 220V230M1875 233V252"/>
<path class="mm mb" stroke-width="5" d="M1868.500 107V109M1868.500 115V117M1868.500 134V136M1868.500 178V180M1868.500 190V192M1868.500 218V220M1868.500 232V234"/>
<path class="mm mt" stroke-width="8" d="M1886 91V103M1886 110V113M1886 117V133M1886 135V177M1886 180V188M1886 197V216M1886 220V230M1886 233V252"/>
<path class="mm mt" stroke-width="6" d="M1893 135V170M1893 197V212M1893 220V228M1893 233V250"/>
<rect x="1464" y="825.500" width="456" height="29.500" class="bar"/><path d="M1464 825.500H1920" class="line"/>
<use href="#refresh" x="1481.500" y="841"/><use href="#doc" x="1516" y="841"/>
<text x="1529.500" y="846" class="out">Output (<tspan fill="#008000">0</tspan>/<tspan fill="#f00">0</tspan>)</text>
<text x="1628" y="845" class="cn">armv8-a clang (trunk)</text><text x="1781" y="847" class="ii">i</text>
<g clip-path="url(#caf)"><text x="1802" y="845" class="ca">- cached (8536B) ~501</text></g>
</g>

<g id="right-strip">
<rect x="1921" y="0" width="32" height="855" fill="#fafafb"/>
<rect x="1922" y="583" width="31" height="23" fill="#3584e4"/>
<path d="M1948 15L1953 20L1948 25ZM1948 38L1953 43L1948 48ZM1948 61L1953 66L1948 71ZM1948 84L1953 89L1948 94ZM1948 130L1953 135L1948 140ZM1948 176L1953 181L1948 186ZM1948 199L1953 204L1948 209ZM1944 224H1953V230L1949 230ZM1948 774L1953 779L1948 784ZM1948 797L1953 802L1948 807ZM1948 820L1953 825L1948 830Z" fill="#b4b4b4"/>
</g>
</svg>
